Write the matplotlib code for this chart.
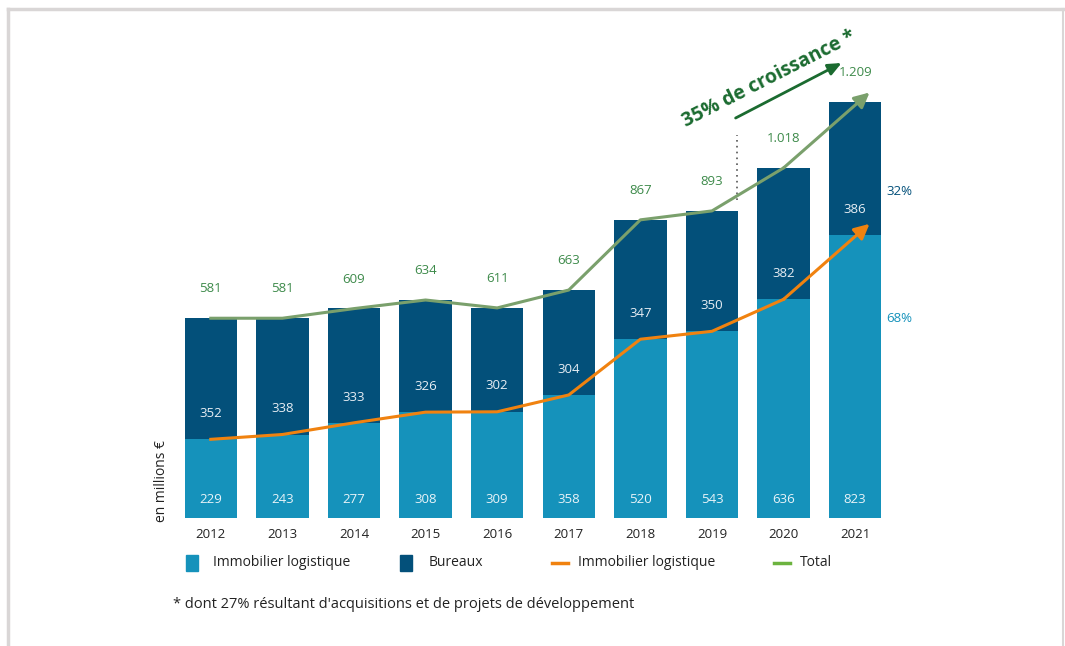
import matplotlib.pyplot as plt
from matplotlib.patches import Rectangle
from matplotlib.lines import Line2D

plt.rcParams['font.family'] = ['Open Sans', 'DejaVu Sans']

years = ["2012", "2013", "2014", "2015", "2016", "2017", "2018", "2019", "2020", "2021"]
logistique = [229, 243, 277, 308, 309, 358, 520, 543, 636, 823]
bureaux = [352, 338, 333, 326, 302, 304, 347, 350, 382, 386]
totals = [581, 581, 609, 634, 611, 663, 867, 893, 1018, 1209]
total_labels = ["581", "581", "609", "634", "611", "663", "867", "893", "1.018", "1.209"]
share_labels = ["32%", "68%"]

c_logi = "#1592bb"
c_bur = "#03507a"
c_orange = "#f0820f"
c_green = "#7aa06c"
c_green_txt = "#3d8a4a"
c_dark_green = "#1b6b30"

fig = plt.figure(figsize=(10.65, 6.46), dpi=100)
ax = fig.add_axes([0.1643, 0.198, 0.6723, 0.7455])
ax.set_xlim(-0.5, 9.5)
ax.set_ylim(0, 1400)
for s in ax.spines.values():
    s.set_visible(False)
ax.set_yticks([])
x = list(range(len(years)))
ax.set_xticks(x)
ax.set_xticklabels(years, fontsize=9.5, color="#222222")
ax.tick_params(axis="x", length=0, pad=7)

ax.bar(x, logistique, width=0.73, color=c_logi)
ax.bar(x, bureaux, width=0.73, bottom=logistique, color=c_bur)

# lines, last segment drawn as arrow
ax.plot(x[:-1], totals[:-1], color=c_green, lw=2.2, zorder=3)
ax.plot(x[:-1], logistique[:-1], color=c_orange, lw=2.2, zorder=3)
g_end = totals[-1] + 0.2 * (totals[-1] - totals[-2]) - 10
o_end = logistique[-1] + 0.2 * (logistique[-1] - logistique[-2]) - 5
ax.annotate("", xy=(9.2, g_end), xytext=(8, totals[-2]),
            arrowprops=dict(arrowstyle="-|>,head_length=0.9,head_width=0.45",
                            color=c_green, lw=2.2, shrinkA=0, shrinkB=0), zorder=3)
ax.annotate("", xy=(9.2, o_end), xytext=(8, logistique[-2]),
            arrowprops=dict(arrowstyle="-|>,head_length=0.9,head_width=0.45",
                            color=c_orange, lw=2.2, shrinkA=0, shrinkB=0), zorder=3)

for i in x:
    ax.text(i, 55, str(logistique[i]), ha="center", va="center", color="#e8f3f8", fontsize=9.5)
    ax.text(i, logistique[i] + 75, str(bureaux[i]), ha="center", va="center", color="#e8eef4", fontsize=9.5)
    ax.text(i, totals[i] + 85, total_labels[i], ha="center", va="center", color=c_green_txt, fontsize=9.5)

ax.text(9.62, 950, share_labels[0], ha="center", va="center", color=c_bur, fontsize=9.5, clip_on=False)
ax.text(9.62, 580, share_labels[1], ha="center", va="center", color=c_logi, fontsize=9.5, clip_on=False)

# dotted separator and growth annotation
ax.plot([7.35, 7.35], [925, 1115], color="#555555", lw=1.2, ls=(0, (1, 2.5)))
ax.annotate("", xy=(8.81, 1323), xytext=(7.33, 1163),
            arrowprops=dict(arrowstyle="-|>,head_length=0.8,head_width=0.35",
                            color=c_dark_green, lw=2, shrinkA=0, shrinkB=0), annotation_clip=False)
fig.text(0.722, 0.877, "35% de croissance *", rotation=27, ha="center", va="center",
         fontsize=14, fontweight="bold", color=c_dark_green)

fig.text(0.152, 0.255, "en millions €", rotation=90, ha="center", va="center", fontsize=10, color="#222222")

# legend
ly = 1 - 563 / 646
fig.patches.append(Rectangle((186 / 1065, ly - 0.012), 12 / 1065, 0.024, color=c_logi, transform=fig.transFigure))
fig.text(213 / 1065, ly, "Immobilier logistique", va="center", fontsize=10, color="#222222")
fig.patches.append(Rectangle((400 / 1065, ly - 0.012), 12 / 1065, 0.024, color=c_bur, transform=fig.transFigure))
fig.text(429 / 1065, ly, "Bureaux", va="center", fontsize=10, color="#222222")
fig.lines.append(Line2D([552 / 1065, 568 / 1065], [ly, ly], color=c_orange, lw=2.5, transform=fig.transFigure))
fig.text(578 / 1065, ly, "Immobilier logistique", va="center", fontsize=10, color="#222222")
fig.lines.append(Line2D([774 / 1065, 790 / 1065], [ly, ly], color="#6cb33f", lw=2.5, transform=fig.transFigure))
fig.text(800 / 1065, ly, "Total", va="center", fontsize=10, color="#222222")

fig.text(173 / 1065, 1 - 604 / 646, "* dont 27% résultant d'acquisitions et de projets de développement",
         va="center", fontsize=10.5, color="#222222")

# frame
fc = "#d9d6d6"
fig.lines.append(Line2D([8 / 1065, 1063 / 1065], [1 - 9 / 646, 1 - 9 / 646], color=fc, lw=2.5, transform=fig.transFigure))
fig.lines.append(Line2D([8 / 1065, 8 / 1065], [0, 1 - 9 / 646], color=fc, lw=2.5, transform=fig.transFigure))
fig.lines.append(Line2D([1063 / 1065, 1063 / 1065], [0, 1 - 9 / 646], color=fc, lw=1.5, transform=fig.transFigure))

fig.savefig("out.png", dpi=100)
